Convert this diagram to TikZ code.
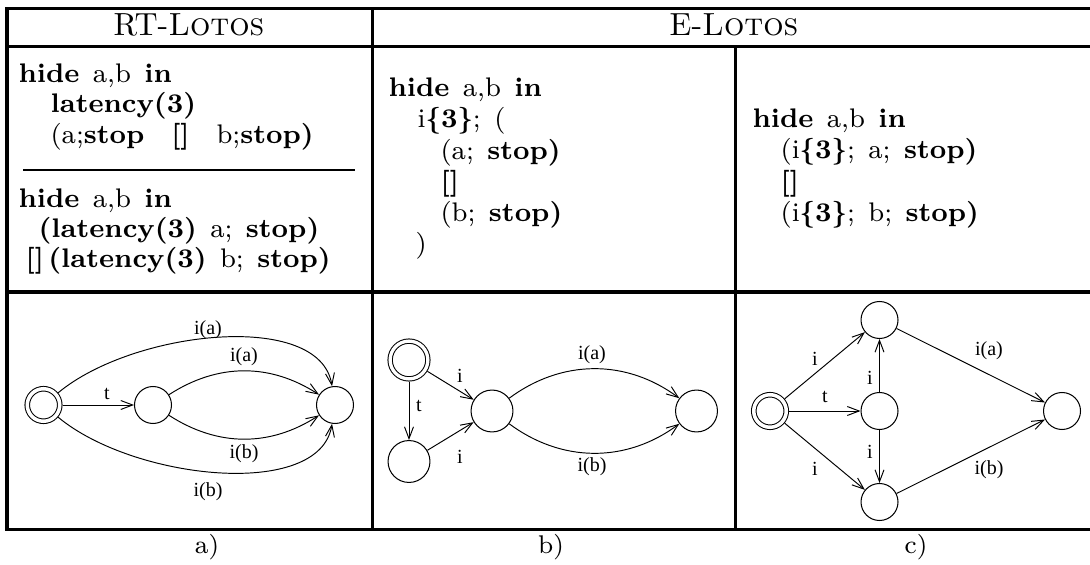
\documentclass[tikz,border=0pt]{standalone}
\usepackage{fontspec}
\usepackage{graphicx}
\newfontfamily\figfont{Liberation Serif}
\usetikzlibrary{arrows.meta}
\newcommand{\ws}{\hspace{0.5em}}
\tikzset{
  rule/.style={line width=0.94pt},
  code/.style={inner sep=0pt, anchor=base west, font=\fontsize{8.4}{10}\selectfont},
  head/.style={inner sep=0pt, anchor=base, font=\normalsize},
  captext/.style={inner sep=0pt, anchor=base, font=\footnotesize},
  st/.style={circle, draw, line width=0.32pt, minimum size=11.56pt, inner sep=0pt, outer sep=0.16pt},
  stb/.style={st, minimum size=13.1pt},
  initst/.style={circle, draw, line width=0.32pt, double, double distance=1.1pt, minimum size=10.16pt, inner sep=0pt, outer sep=0.86pt},
  initb/.style={initst, minimum size=11.8pt, double distance=1.03pt},
  tr/.style={line width=0.3pt, -{Straight Barb[length=3.7pt,width=2.8pt]}},
  lab/.style={font=\figfont\fontsize{6.25}{7.5}\selectfont, inner sep=0pt}
}
\begin{document}
\begin{tikzpicture}[x=0.3125pt,y=-0.3125pt]
\useasboundingbox (0,0) rectangle (1090,565);
% table rules
\draw[rule] (7,9) rectangle (1110,529.5);
\draw[rule] (7,47) -- (1110,47);
\draw[rule] (7,292) -- (1110,292);
\draw[rule] (372,9) -- (372,529.5);
\draw[rule] (735,47) -- (735,529.5);
\draw[line width=0.8pt] (23,170) -- (355,170);
% headers
\node[head] (h1) at (189,36) {RT-\textsc{Lotos}};
\node[head] (h2) at (734,36) {E-\textsc{Lotos}};
% code cell a
\node[code] (a1) at (18,83) {\textbf{hide}\ws a,b\ws\textbf{in}};
\node[code] (a2) at (50,113) {\textbf{latency(3)}};
\node[code] (a3) at (50,143.5) {(a;\textbf{stop}\ws\ws\textbf{[]}\ws\ws b;\textbf{stop)}};
\node[code] (a4) at (18,208) {\textbf{hide}\ws a,b\ws\textbf{in}};
\node[code] (a5) at (38,238) {\textbf{(latency(3)}\ws a;\ws\textbf{stop)}};
\node[code] (a6) at (25,267.5) {\textbf{[]}\,\textbf{(latency(3)}\ws b;\ws\textbf{stop)}};
% code cell b
\node[code] (b1) at (388,97) {\textbf{hide}\ws a,b\ws\textbf{in}};
\node[code] (b2) at (417,128) {i\textbf{\{3\}};\ws(};
\node[code] (b3) at (440,159.5) {(a;\ws\textbf{stop)}};
\node[code] (b4) at (440,190.5) {\textbf{[]}};
\node[code] (b5) at (440,221.8) {(b;\ws\textbf{stop)}};
\node[code] (b6) at (415,253) {)};
% code cell c
\node[code] (c1) at (752,128) {\textbf{hide}\ws a,b\ws\textbf{in}};
\node[code] (c2) at (780,159) {(i\textbf{\{3\}};\ws a;\ws\textbf{stop)}};
\node[code] (c3) at (780,190.5) {\textbf{[]}};
\node[code] (c4) at (780,222) {(i\textbf{\{3\}};\ws b;\ws\textbf{stop)}};
% captions
\node[captext] (ca) at (207,553) {a)};
\node[captext] (cb) at (551,553) {b)};
\node[captext] (cc) at (916,553) {c)};
% graph a
\node[initst] (g0) at (43.5,405) {};
\node[st] (gm) at (153,405) {};
\node[st] (gr) at (335,405) {};
\draw[tr] (g0) -- (gm);
\draw[tr] (gm) .. controls +(65,-42) and +(-65,-42) .. (gr);
\draw[tr] (gm) .. controls +(65,42) and +(-65,42) .. (gr);
\draw[tr] (g0) .. controls +(90,-75) and +(-15,-95) .. (gr);
\draw[tr] (g0) .. controls +(90,75) and +(-15,95) .. (gr);
\node[lab] (la1) at (208,330) {i(a)};
\node[lab] (la2) at (244,357) {i(a)};
\node[lab] (la3) at (107,394) {t};
\node[lab] (la4) at (244,454) {i(b)};
\node[lab] (la5) at (208,492) {i(b)};
% graph b
\node[initb] (k0) at (409,360) {};
\node[stb] (kb) at (409,461.5) {};
\node[stb] (km) at (492,411) {};
\node[stb] (kr) at (696.5,411) {};
\draw[tr] (k0) -- (kb);
\draw[tr] (k0) -- (km);
\draw[tr] (kb) -- (km);
\draw[tr] (km) .. controls +(70,-52) and +(-70,-52) .. (kr);
\draw[tr] (km) .. controls +(70,52) and +(-70,52) .. (kr);
\node[lab] (lb1) at (592,355) {i(a)};
\node[lab] (lb2) at (592,467) {i(b)};
\node[lab] (lb3) at (460,376) {i};
\node[lab] (lb4) at (460,457) {i};
\node[lab] (lb5) at (419,406) {t};
% graph c
\node[initst] (p0) at (770,411) {};
\node[st] (pt) at (879.5,320) {};
\node[st] (pm) at (879.5,411) {};
\node[st] (pb) at (879.5,502) {};
\node[st] (pr) at (1062,411) {};
\draw[tr] (p0) -- (pt);
\draw[tr] (p0) -- (pm);
\draw[tr] (p0) -- (pb);
\draw[tr] (pm) -- (pt);
\draw[tr] (pm) -- (pb);
\draw[tr] (pt) -- (pr);
\draw[tr] (pb) -- (pr);
\node[lab] (lc1) at (815,359) {i};
\node[lab] (lc2) at (825,397) {t};
\node[lab] (lc3) at (815,469) {i};
\node[lab] (lc4) at (870,378) {i};
\node[lab] (lc5) at (870,452) {i};
\node[lab] (lc6) at (989,351) {i(a)};
\node[lab] (lc7) at (989,470) {i(b)};
\end{tikzpicture}
\end{document}
